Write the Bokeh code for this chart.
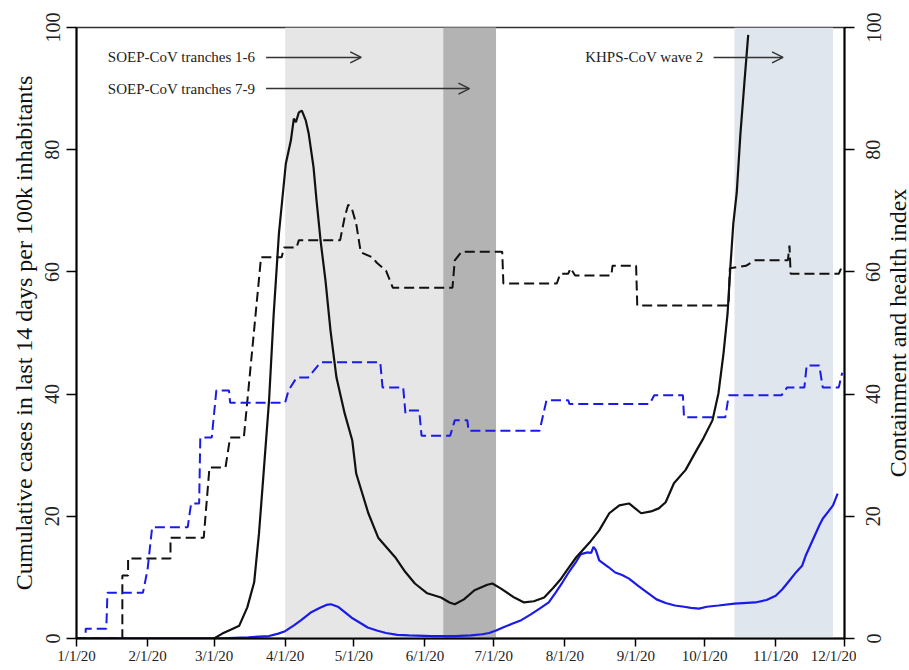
import math
from bokeh.plotting import figure
from bokeh.layouts import row
from bokeh.models import (Range1d, LinearAxis, FixedTicker, BoxAnnotation,
                          Arrow, OpenHead, Label)
from bokeh.core.properties import value
from bokeh.embed import file_html
from bokeh.resources import INLINE

# ---------------- data ----------------
month_days = [0, 31, 60, 91, 121, 152, 182, 213, 244, 274, 305, 335]
month_labels = ["1/1/20", "2/1/20", "3/1/20", "4/1/20", "5/1/20", "6/1/20",
                "7/1/20", "8/1/20", "9/1/20", "10/1/20", "11/1/20", "12/1/20"]
y_ticks = [0, 20, 40, 60, 80, 100]

# cumulative cases in last 14 days per 100k (black solid)
cases_black_day = [0, 60, 63.6, 67, 71, 74.5, 77.5, 79.6, 81.8, 84, 86, 88.3, 91.3,
                   93.5, 94.8, 95.7, 97, 98.3, 100, 101.3, 103.4, 104.7, 106.5, 108.6,
                   110.8, 113.4, 117, 120.3, 122, 127.3, 131.6, 139, 143, 147.6, 153,
                   159, 162.7, 165, 169, 173.6, 179.2, 181.4, 185, 191, 195.2, 199.5,
                   204, 208, 211, 213.8, 218, 223.8, 228, 232.4, 236.8, 241, 246.3,
                   250.6, 254, 257, 260.6, 265.7, 270, 273.5, 277.4, 280, 282.2, 284,
                   285.2, 286.5, 288, 289.6, 291.3, 293]
cases_black_val = [0, 0, 0.8, 1.4, 2.1, 5.1, 9.2, 17.2, 28, 39, 53, 66.3, 77.7,
                   81.5, 85.1, 84.5, 86.1, 86.4, 84.8, 82.6, 77.1, 71.7, 65, 58.6,
                   50.4, 42.7, 36.8, 32.4, 27, 20.5, 16.5, 13.3, 11.1, 9, 7.4,
                   6.7, 5.9, 5.6, 6.4, 7.9, 8.8, 9.0, 8.2, 6.7, 5.9, 6.1,
                   6.7, 8.3, 9.6, 11.1, 13.3, 15.7, 17.7, 20.5, 21.8, 22.1, 20.5,
                   20.8, 21.3, 22.3, 25.4, 27.6, 30.5, 32.8, 35.7, 40.1, 46.6, 53.2,
                   60.7, 67.9, 73, 82.6, 90.8, 98.8]

# cumulative cases (blue solid)
cases_blue_day = [0, 60, 75, 84, 88, 91, 95, 98, 102, 106, 109, 111, 114, 117, 120,
                  124, 127, 131, 135, 140, 145, 155, 165, 172, 177, 180, 183, 186,
                  190, 194, 198, 202, 206, 209, 212, 215, 218, 220, 223, 224.5, 225.5,
                  226.5, 228, 232, 235, 238, 241, 245, 249, 253, 257, 261, 265, 268,
                  271.5, 275, 280, 287, 296, 301, 305, 308, 311, 314, 316.5, 318, 321,
                  324, 325.5, 328, 330, 332]
cases_blue_val = [0, 0, 0.2, 0.4, 0.8, 1.2, 2.2, 3.0, 4.2, 5.0, 5.5, 5.6, 5.2, 4.3, 3.4,
                  2.5, 1.8, 1.3, 0.9, 0.6, 0.5, 0.4, 0.4, 0.5, 0.7, 0.9, 1.3, 1.8,
                  2.4, 3.0, 3.9, 4.9, 5.9, 7.5, 9.2, 11.0, 12.6, 13.8, 14.1, 14.0, 15.0,
                  14.5, 12.8, 11.7, 10.8, 10.4, 9.8, 8.6, 7.5, 6.4, 5.8, 5.4, 5.2, 5.0,
                  4.9, 5.2, 5.4, 5.7, 5.9, 6.3, 7.0, 8.1, 9.5, 10.9, 11.9, 13.5, 16.0,
                  18.5, 19.6, 20.8, 21.8, 23.7]

# containment and health index (black dashed)
index_black_day = [0, 20, 20, 22.5, 22.5, 41, 41, 55.5, 58, 65, 67, 73, 80.5, 89.5,
                   90.5, 96, 97, 115, 117, 118.5, 120, 122, 124, 129, 131, 135, 138,
                   164, 165, 168, 185.7, 186.2, 209.5, 211, 214.5, 215.5, 217.5, 233.3,
                   233.8, 244.1, 244.6, 284.4, 285, 292, 296, 310.3, 311, 311.5,
                   332.5, 334]
index_black_val = [0, 0, 10.3, 10.3, 13.1, 13.1, 16.5, 16.5, 28, 28, 32.9, 32.9, 62.4,
                   62.4, 64, 64, 65.2, 65.2, 69, 71, 70.5, 67.9, 63.2, 62.4, 61.5, 60.2,
                   57.4, 57.4, 61.9, 63.3, 63.3, 58.1, 58.1, 59.7, 59.7, 60.6, 59.4,
                   59.4, 61, 61, 54.5, 54.5, 60.6, 61, 61.9, 61.9, 64.3, 59.7, 59.7, 61]

# containment and health index (blue dashed)
index_blue_day = [0, 4, 4, 13, 13.5, 29, 31, 33, 48.5, 50, 53.5, 54, 59, 61, 66.5, 67,
                  91, 92.5, 96, 101, 106.5, 132.5, 133.5, 142.5, 143.5, 145, 149.5,
                  150.5, 163, 165, 170.5, 171, 202, 205, 214.5, 215, 250, 252, 264.5,
                  265, 283, 284.5, 307.5, 310, 317.5, 318.5, 324, 325.5, 332.5, 334]
index_blue_val = [0, 0, 1.6, 1.6, 7.5, 7.5, 11.3, 18.2, 18.2, 22.1, 22.1, 32.9, 32.9,
                  40.6, 40.6, 38.6, 38.6, 40.6, 42.7, 42.7, 45.2, 45.2, 41.1, 41.1,
                  36.8, 37.3, 37.3, 33.2, 33.2, 35.7, 35.7, 34.0, 34.0, 39.0, 39.0,
                  38.4, 38.4, 39.8, 39.8, 36.2, 36.2, 39.8, 39.8, 41.1, 41.1, 44.7,
                  44.7, 41.1, 41.1, 43.5]

# survey periods (day of year)
soep_1_6 = (91, 183)
soep_7_9 = (160, 183)
khps_2 = (287, 330)

right_axis_title = "Containment and health index"
left_axis_title = "Cumulative cases in last 14 days per 100k inhabitants"

FONT = "Liberation Serif"
BLUE = "#1b1be8"
BLACK = "#111111"
X_END = month_days[-1]

W_TOTAL, H = 909, 670
TOP, BOTTOM = 27, 32
W_MAIN = 856
SIDE_BORDER = 31

p = figure(width=W_MAIN, height=H, x_range=Range1d(0, X_END), y_range=Range1d(0, 100),
           output_backend="svg", toolbar_location=None,
           min_border_left=76, min_border_right=W_MAIN - 844, min_border_top=TOP,
           min_border_bottom=BOTTOM)
p.xgrid.visible = False
p.ygrid.visible = False
p.outline_line_color = "#333333"
p.outline_line_width = 1.5
p.background_fill_color = "white"
p.border_fill_color = "white"

# shaded survey periods
p.add_layout(BoxAnnotation(left=soep_1_6[0], right=soep_1_6[1], fill_color="#e6e6e6",
                           fill_alpha=1, line_color=None, level="underlay"))
p.add_layout(BoxAnnotation(left=soep_7_9[0], right=soep_7_9[1], fill_color="#b3b3b3",
                           fill_alpha=1, line_color=None, level="underlay"))
p.add_layout(BoxAnnotation(left=khps_2[0], right=khps_2[1], fill_color="#dfe6ed",
                           fill_alpha=1, line_color=None, level="underlay"))

# series
p.line(index_black_day, index_black_val, line_color=BLACK, line_width=2, line_dash="10 5")
p.line(index_blue_day, index_blue_val, line_color=BLUE, line_width=2, line_dash="10 5")
p.line(cases_blue_day, cases_blue_val, line_color=BLUE, line_width=2.2)
p.line(cases_black_day, cases_black_val, line_color=BLACK, line_width=2.2)

# annotations
def note(text, x_text, x0, x1, y):
    p.add_layout(Label(x=x_text, y=y, text=text, text_align="right",
                       text_baseline="middle", text_font=FONT,
                       text_font_size="15px", text_color="#222222"))
    p.add_layout(Arrow(end=OpenHead(size=11, line_width=1.5, line_color="#333333"),
                       x_start=x0, y_start=y, x_end=x1, y_end=y,
                       line_width=1.5, line_color="#333333"))

note("SOEP-CoV tranches 1-6", 78, 82.7, 124.2, 95.1)
note("SOEP-CoV tranches 7-9", 78, 82.7, 171.4, 90.0)
note("KHPS-CoV wave 2", 273.5, 277.9, 308.2, 95.1)

# x axis
xa = p.xaxis[0]
xa.ticker = FixedTicker(ticks=month_days)
xa.major_label_overrides = {d: l for d, l in zip(month_days, month_labels)}
xa.major_label_text_font = FONT
xa.major_label_text_font_size = "15px"
xa.major_label_text_color = "#222222"
xa.major_tick_out = 8
xa.major_tick_in = 0
xa.minor_tick_out = 0
xa.minor_tick_in = 0
xa.major_label_standoff = 1
xa.axis_line_width = 2
xa.major_tick_line_width = 1.5

# left axis + right axis tick marks
ly = p.yaxis[0]
ly.axis_label = left_axis_title
ry = LinearAxis()
p.add_layout(ry, "right")
for ax in (ly, ry):
    ax.ticker = FixedTicker(ticks=y_ticks)
    ax.major_tick_out = 10
    ax.major_tick_in = 0
    ax.minor_tick_out = 0
    ax.minor_tick_in = 0
    ax.axis_line_width = 2
    ax.major_tick_line_width = 1.5
ly.major_label_orientation = "vertical"
ly.major_label_text_font = FONT
ly.major_label_text_font_size = "20px"
ly.major_label_text_color = "#222222"
ly.major_label_standoff = 7
ly.axis_label_text_font = FONT
ly.axis_label_text_font_size = "24px"
ly.axis_label_text_font_style = "normal"
ly.axis_label_text_color = "#111111"
ly.axis_label_standoff = 6
ry.major_label_overrides = {t: "" for t in y_ticks}
ry.major_label_text_font_size = "1px"
ry.major_label_standoff = 0

# side panel: right-axis tick labels (its own left axis, same 0-100 scale) and title
side = figure(width=W_TOTAL - W_MAIN, height=H,
              x_range=Range1d(W_MAIN + SIDE_BORDER, W_TOTAL), y_range=Range1d(0, 100),
              output_backend="svg", toolbar_location=None, title=None,
              x_axis_location=None, min_border=0,
              min_border_left=SIDE_BORDER, min_border_right=0, min_border_top=TOP,
              min_border_bottom=BOTTOM)
side.grid.visible = False
side.outline_line_color = None
side.background_fill_color = "white"
side.border_fill_color = "white"
sa = side.yaxis[0]
sa.ticker = FixedTicker(ticks=y_ticks)
sa.major_label_orientation = "vertical"
sa.major_label_text_font = FONT
sa.major_label_text_font_size = "20px"
sa.major_label_text_color = "#222222"
sa.major_label_standoff = 7
sa.axis_line_color = None
sa.major_tick_line_color = None
sa.minor_tick_line_color = None
sa.major_tick_out = 0
sa.major_tick_in = 0
sa.minor_tick_out = 0
sa.minor_tick_in = 0
side.text(x=[897], y=[50], text=[right_axis_title], angle=math.pi / 2,
          text_align="center", text_baseline="middle", text_font=value(FONT),
          text_font_size="24px", text_color="#111111")

layout = row(p, side)
open("out.html", "w").write(file_html(layout, INLINE))
